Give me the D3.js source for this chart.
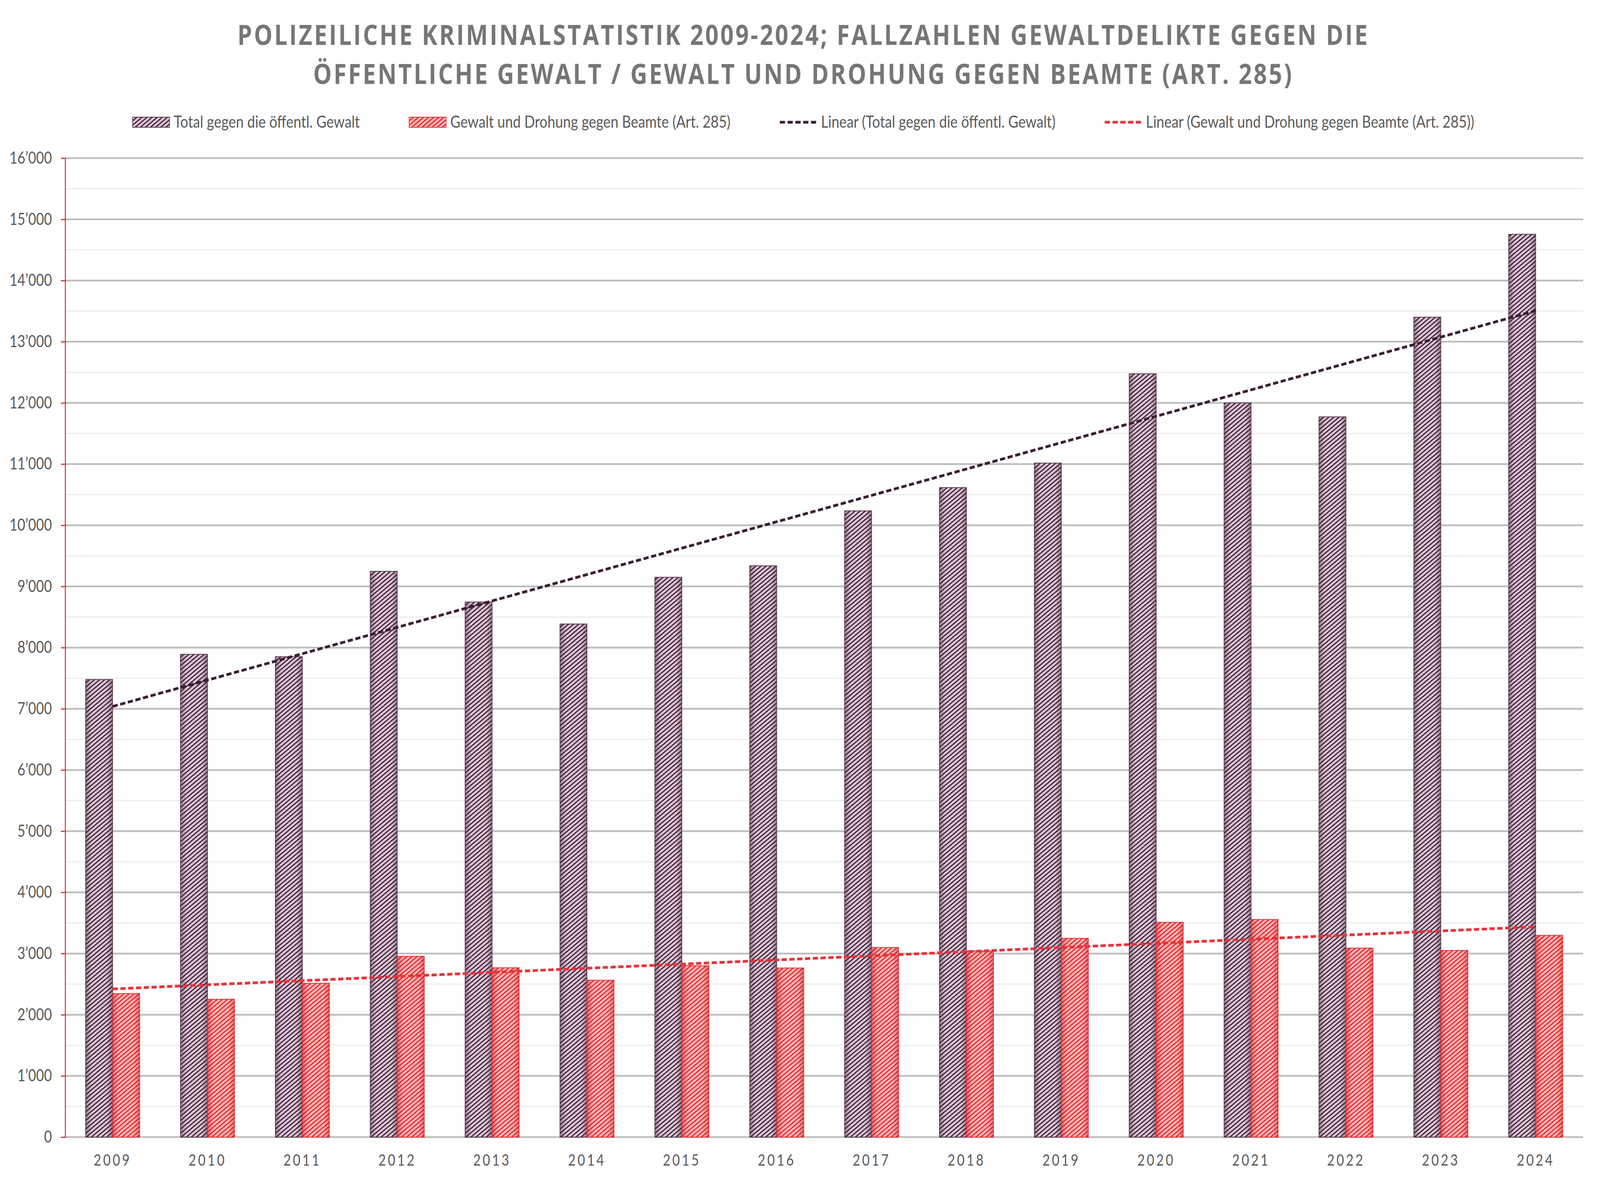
<!DOCTYPE html>
<html>
<head>
<meta charset="utf-8">
<script src="https://cdn.jsdelivr.net/npm/d3@7"></script>
<style>
  html, body { margin: 0; padding: 0; width: 100%; height: 100%; overflow: hidden; background: #fff; }
  svg { display: block; width: 100vw; height: 100vh; }
</style>
</head>
<body>
<svg id="chart"></svg>
<script>
const years = ['2009', '2010', '2011', '2012', '2013', '2014', '2015', '2016',
    '2017', '2018', '2019', '2020', '2021', '2022', '2023', '2024'];
const totalValues = [7479, 7891, 7852, 9247, 8746, 8386, 9150, 9337,
    10235, 10616, 11016, 12476, 12000, 11772, 13401, 14756];
const beamteValues = [2347, 2253, 2515, 2955, 2768, 2564, 2802, 2764,
    3100, 3043, 3249, 3511, 3557, 3089, 3051, 3298];
const seriesNames = ['Total gegen die öffentl. Gewalt', 'Gewalt und Drohung gegen Beamte (Art. 285)'];
const titleLines = ['POLIZEILICHE KRIMINALSTATISTIK 2009-2024; FALLZAHLEN GEWALTDELIKTE GEGEN DIE',
    'ÖFFENTLICHE GEWALT / GEWALT UND DROHUNG GEGEN BEAMTE (ART. 285)'];

const width = 4933;
const height = 3027;
const plotLeft = 201, plotRight = 4881, plotTop = 405, plotBottom = 2912;
const centerX = 2477;
const labelFont = 'Lato, "Open Sans", sans-serif';

const svg = d3.select('#chart')
    .attr('viewBox', `0 0 ${width} ${height}`)
    .attr('preserveAspectRatio', 'none');

const defs = svg.append('defs');

function hatch(id, bg, line) {
    const p = defs.append('pattern')
        .attr('id', id)
        .attr('width', 9)
        .attr('height', 9)
        .attr('patternUnits', 'userSpaceOnUse')
        .attr('patternTransform', 'rotate(-35)');
    p.append('rect').attr('width', 9).attr('height', 9).attr('fill', bg);
    p.append('rect').attr('width', 9).attr('height', 3.2).attr('fill', line);
}
hatch('hatchTotal', '#dcc5d5', '#3b2034');
hatch('hatchBeamte', '#fab7b7', '#e8262d');

// dunklere Ränder wie im Original
function shade(id, color) {
    const g = defs.append('linearGradient').attr('id', id);
    g.append('stop').attr('offset', '0').attr('stop-color', color).attr('stop-opacity', 0.45);
    g.append('stop').attr('offset', '0.22').attr('stop-color', color).attr('stop-opacity', 0);
    g.append('stop').attr('offset', '0.78').attr('stop-color', color).attr('stop-opacity', 0);
    g.append('stop').attr('offset', '1').attr('stop-color', color).attr('stop-opacity', 0.45);
}
shade('shadeTotal', '#4a2840');
shade('shadeBeamte', '#c0161e');

const x = d3.scaleBand()
    .domain(years)
    .range([plotLeft, plotRight])
    .paddingInner(0.43)
    .paddingOuter(0.215);

const x1 = d3.scaleBand()
    .domain(['total', 'beamte'])
    .range([0, x.bandwidth()]);

const y = d3.scaleLinear()
    .domain([0, 16000])
    .range([plotBottom, plotTop]);

// Titel
svg.append('g')
    .selectAll('text')
    .data(titleLines)
    .enter()
    .append('text')
    .attr('x', centerX)
    .attr('y', (d, i) => 115 + i * 100)
    .attr('text-anchor', 'middle')
    .style('font-family', '"Open Sans", sans-serif')
    .style('font-weight', 700)
    .style('font-size', '72px')
    .style('letter-spacing', '5.5px')
    .style('fill', '#767676')
    .text(d => d);

// Gitterlinien
const minorTicks = d3.range(500, 16000, 1000);
const majorTicks = d3.range(0, 16001, 1000);

svg.append('g')
    .selectAll('line')
    .data(minorTicks)
    .enter()
    .append('line')
    .attr('x1', plotLeft)
    .attr('x2', plotRight)
    .attr('y1', d => y(d))
    .attr('y2', d => y(d))
    .attr('stroke', '#ececec')
    .attr('stroke-width', 3);

svg.append('g')
    .selectAll('line')
    .data(majorTicks)
    .enter()
    .append('line')
    .attr('x1', plotLeft)
    .attr('x2', plotRight)
    .attr('y1', d => y(d))
    .attr('y2', d => y(d))
    .attr('stroke', '#bdbdbd')
    .attr('stroke-width', 4.5);

// Balken
const groups = svg.append('g')
    .selectAll('g')
    .data(years.map((year, i) => ({ year, total: totalValues[i], beamte: beamteValues[i] })))
    .enter()
    .append('g')
    .attr('transform', d => `translate(${x(d.year)},0)`);

const barStyle = {
    total: { fill: 'url(#hatchTotal)', shade: 'url(#shadeTotal)', stroke: '#5b3a50' },
    beamte: { fill: 'url(#hatchBeamte)', shade: 'url(#shadeBeamte)', stroke: '#e5343a' }
};

['total', 'beamte'].forEach(key => {
    groups.append('rect')
        .attr('x', x1(key))
        .attr('y', d => y(d[key]))
        .attr('width', x1.bandwidth())
        .attr('height', d => y(0) - y(d[key]))
        .attr('fill', barStyle[key].fill)
        .attr('stroke', barStyle[key].stroke)
        .attr('stroke-width', 2);
    groups.append('rect')
        .attr('x', x1(key))
        .attr('y', d => y(d[key]))
        .attr('width', x1.bandwidth())
        .attr('height', d => y(0) - y(d[key]))
        .attr('fill', barStyle[key].shade);
});

// lineare Trendlinien (kleinste Quadrate)
function trend(values) {
    const n = values.length;
    const mx = (n - 1) / 2;
    const my = d3.mean(values);
    let sxy = 0, sxx = 0;
    values.forEach((v, i) => { sxy += (i - mx) * (v - my); sxx += (i - mx) * (i - mx); });
    const slope = sxy / sxx;
    return values.map((v, i) => my + slope * (i - mx));
}

const trendLine = d3.line()
    .x((d, i) => x(years[i]) + x.bandwidth() / 2)
    .y(d => y(d));

svg.append('path')
    .attr('d', trendLine(trend(totalValues)))
    .attr('fill', 'none')
    .attr('stroke', '#3b1e33')
    .attr('stroke-width', 7)
    .attr('stroke-dasharray', '16 8');

svg.append('path')
    .attr('d', trendLine(trend(beamteValues)))
    .attr('fill', 'none')
    .attr('stroke', '#e8333a')
    .attr('stroke-width', 7)
    .attr('stroke-dasharray', '16 8');

// Y-Achse
const yAxis = svg.append('g')
    .attr('transform', `translate(${plotLeft},0)`)
    .call(d3.axisLeft(y)
        .tickValues(majorTicks)
        .tickSize(13)
        .tickPadding(28)
        .tickFormat(d => d3.format(',')(d).replace(',', '’')));

yAxis.select('.domain').attr('stroke', '#e8282e').attr('stroke-width', 3);
yAxis.selectAll('.tick line').attr('stroke', '#e8282e').attr('stroke-width', 3);
yAxis.selectAll('.tick text')
    .style('font-family', labelFont)
    .style('font-size', '42px')
    .style('fill', '#595959');

// X-Beschriftung
svg.append('g')
    .selectAll('text')
    .data(years)
    .enter()
    .append('text')
    .attr('x', d => x(d) + x.bandwidth() / 2)
    .attr('y', 2985)
    .attr('text-anchor', 'middle')
    .style('font-family', labelFont)
    .style('font-size', '40px')
    .style('letter-spacing', '6px')
    .style('fill', '#595959')
    .text(d => d);

// Legende
const legendItems = [
    { label: seriesNames[0], type: 'rect', fill: 'url(#hatchTotal)', stroke: '#5b3a50' },
    { label: seriesNames[1], type: 'rect', fill: 'url(#hatchBeamte)', stroke: '#e5343a' },
    { label: 'Linear (' + seriesNames[0] + ')', type: 'line', stroke: '#3b1e33' },
    { label: 'Linear (' + seriesNames[1] + ')', type: 'line', stroke: '#e8333a' }
];

const legend = svg.append('g');
const swatchW = 114, swatchGap = 13, itemGap = 152, legendY = 313;

const items = legend.selectAll('g')
    .data(legendItems)
    .enter()
    .append('g');

items.append('text')
    .attr('x', swatchW + swatchGap)
    .attr('y', legendY + 14)
    .style('font-family', labelFont)
    .style('font-size', '43px')
    .style('fill', '#595959')
    .text(d => d.label);

items.each(function (d) {
    const g = d3.select(this);
    if (d.type === 'rect') {
        g.append('rect')
            .attr('y', legendY - 13)
            .attr('width', swatchW)
            .attr('height', 26)
            .attr('fill', d.fill)
            .attr('stroke', d.stroke)
            .attr('stroke-width', 2);
    } else {
        g.append('line')
            .attr('x1', 0)
            .attr('x2', swatchW)
            .attr('y1', legendY)
            .attr('y2', legendY)
            .attr('stroke', d.stroke)
            .attr('stroke-width', 7)
            .attr('stroke-dasharray', '16 8');
    }
});

const widths = [];
items.select('text').each(function () { widths.push(this.getComputedTextLength()); });
const legendWidth = d3.sum(widths) + legendItems.length * (swatchW + swatchGap) + (legendItems.length - 1) * itemGap;
let pos = centerX - legendWidth / 2;
items.attr('transform', (d, i) => {
    const t = `translate(${pos},0)`;
    pos += swatchW + swatchGap + widths[i] + itemGap;
    return t;
});
</script>
</body>
</html>
